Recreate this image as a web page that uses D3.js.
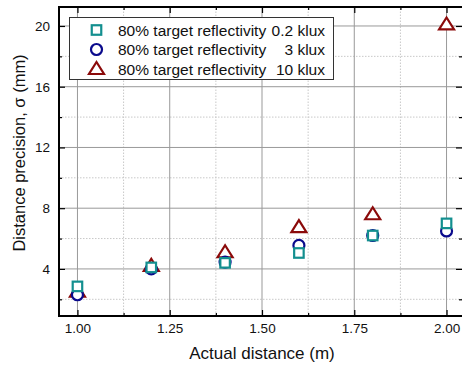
<!DOCTYPE html>
<html>
<head>
<meta charset="utf-8">
<script src="https://cdn.jsdelivr.net/npm/d3@7"></script>
<style>
  body { margin: 0; background: #fff; }
  svg { display: block; font-family: "Liberation Sans", Arial, sans-serif; }
</style>
</head>
<body>
<svg id="chart"></svg>
<script>
// data
const distances = [1.0, 1.2, 1.4, 1.6, 1.8, 2.0]
const lux02 = [2.85, 4.1, 4.4, 5.05, 6.2, 7.0]
const lux3 = [2.3, 4.0, 4.45, 5.55, 6.2, 6.5]
const lux10 = [2.5, 4.2, 5.1, 6.75, 7.6, 20.1]
const xTicks = [1.0, 1.25, 1.5, 1.75, 2.0]
const yTicks = [4, 8, 12, 16, 20]

const series = [
    { naam: "80% target reflectivity", lux: "0.2 klux", waarden: lux02, vorm: "square", kleur: "#138f8f" },
    { naam: "80% target reflectivity", lux: "3 klux", waarden: lux3, vorm: "circle", kleur: "#0a0a8c" },
    { naam: "80% target reflectivity", lux: "10 klux", waarden: lux10, vorm: "triangle", kleur: "#8b0a0a" }
]

const width = 462
const height = 370
const margin = { top: 7, left: 59, bottom: 316 }

const svg = d3.select('#chart')
    .attr("width", width)
    .attr("height", height)

const x = d3.scaleLinear().domain([0.95, 2.05]).range([margin.left, 465])
const y = d3.scaleLinear().domain([0.9, 21.25]).range([margin.bottom, margin.top])

const x0 = x.range()[0], x1 = x.range()[1]
const y0 = y.range()[0], y1 = y.range()[1]

const minorX = d3.range(1.125, 2.05, 0.25)
const minorY = [2, 6, 10, 14, 18]

// gridlines
const grid = svg.append("g")
grid.selectAll(".gx-minor").data(minorX).enter().append("line")
    .attr("x1", d => x(d)).attr("x2", d => x(d)).attr("y1", y0).attr("y2", y1)
    .attr("stroke", "#c8c8c8").attr("stroke-dasharray", "1.5,1.5")
grid.selectAll(".gy-minor").data(minorY).enter().append("line")
    .attr("y1", d => y(d)).attr("y2", d => y(d)).attr("x1", x0).attr("x2", x1)
    .attr("stroke", "#c8c8c8").attr("stroke-dasharray", "1.5,1.5")
grid.selectAll(".gx").data(xTicks).enter().append("line")
    .attr("x1", d => x(d)).attr("x2", d => x(d)).attr("y1", y0).attr("y2", y1)
    .attr("stroke", "#999")
grid.selectAll(".gy").data(yTicks).enter().append("line")
    .attr("y1", d => y(d)).attr("y2", d => y(d)).attr("x1", x0).attr("x2", x1)
    .attr("stroke", "#999")

// axes with inward ticks
function axis(gen, transform) {
    return svg.append("g").attr("transform", transform).call(gen)
        .call(g => g.select(".domain").remove())
        .call(g => g.selectAll("line").attr("stroke", "#000").attr("stroke-width", 1.2))
}
const fmt = d3.format(".2f")
axis(d3.axisBottom(x).tickValues(xTicks).tickFormat(fmt).tickSizeInner(-6).tickPadding(7), `translate(0,${y0})`)
    .selectAll("text").attr("font-size", 13.5).attr("fill", "#111")
axis(d3.axisBottom(x).tickValues(minorX).tickFormat("").tickSizeInner(-3), `translate(0,${y0})`)
axis(d3.axisTop(x).tickValues(xTicks).tickFormat("").tickSizeInner(-6), `translate(0,${y1})`)
axis(d3.axisTop(x).tickValues(minorX).tickFormat("").tickSizeInner(-3), `translate(0,${y1})`)
axis(d3.axisLeft(y).tickValues(yTicks).tickFormat(d3.format("d")).tickSizeInner(-6).tickPadding(9), `translate(${x0},0)`)
    .selectAll("text").attr("font-size", 13.5).attr("fill", "#111")
axis(d3.axisLeft(y).tickValues(minorY).tickFormat("").tickSizeInner(-3), `translate(${x0},0)`)
axis(d3.axisRight(y).tickValues(yTicks).tickFormat("").tickSizeInner(-6), `translate(${x1 - 3},0)`)
axis(d3.axisRight(y).tickValues(minorY).tickFormat("").tickSizeInner(-3), `translate(${x1 - 3},0)`)

// frame
svg.append("rect")
    .attr("x", x0).attr("y", y1).attr("width", x1 - x0).attr("height", y0 - y1)
    .attr("fill", "none").attr("stroke", "#000").attr("stroke-width", 2)

// markers
function marker(sel, vorm, kleur) {
    if (vorm === "square") {
        sel.append("rect").attr("x", -4.75).attr("y", -4.75).attr("width", 9.5).attr("height", 9.5)
    } else if (vorm === "circle") {
        sel.append("circle").attr("r", 5.5)
    } else {
        sel.append("path").attr("d", "M0,-7L7.5,5L-7.5,5Z")
    }
    sel.selectAll("*").attr("fill", "#fff").attr("stroke", kleur).attr("stroke-width", 2.2)
}

const plotOrder = [series[2], series[1], series[0]]
plotOrder.forEach(s => {
    svg.append("g").selectAll("g").data(distances).enter().append("g")
        .attr("transform", (d, i) => `translate(${x(d)},${y(s.waarden[i])})`)
        .each(function () { marker(d3.select(this), s.vorm, s.kleur) })
})

// legend
const legend = svg.append("g")
legend.append("rect")
    .attr("x", 69.5).attr("y", 17.5).attr("width", 264).attr("height", 62)
    .attr("fill", "#fff").attr("stroke", "#333").attr("stroke-width", 1)
series.forEach((s, i) => {
    const cy = 30 + i * 19.5
    const g = legend.append("g").attr("transform", `translate(96.5,${cy})`)
    marker(g, s.vorm, s.kleur)
    legend.append("text").attr("x", 118).attr("y", cy).attr("dy", "0.36em")
        .attr("font-size", 15.5).attr("fill", "#111").text(s.naam)
    legend.append("text").attr("x", 325).attr("y", cy).attr("dy", "0.36em")
        .attr("text-anchor", "end").attr("font-size", 15.5).attr("fill", "#111").text(s.lux)
})

// axis titles
svg.append("text").attr("x", 262).attr("y", 359).attr("text-anchor", "middle")
    .attr("font-size", 17).attr("fill", "#111").text("Actual distance (m)")
svg.append("text").attr("transform", "translate(25,153) rotate(-90)").attr("text-anchor", "middle")
    .attr("font-size", 16.5).attr("fill", "#111").text("Distance precision, σ (mm)")
</script>
</body>
</html>
